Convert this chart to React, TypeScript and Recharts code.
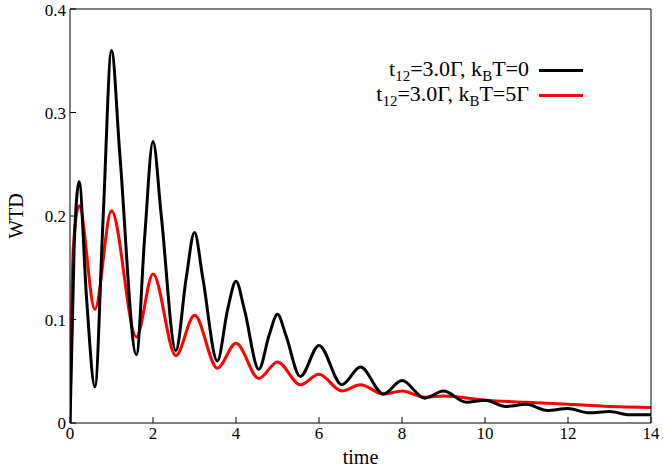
import React from "react"
import { LineChart, Line, XAxis, YAxis } from "recharts"

const blackT = [0, 0.1, 0.22, 0.4, 0.6, 0.8, 1.0, 1.2, 1.6, 1.8, 2.0, 2.2, 2.55, 2.8, 3.0, 3.2, 3.55, 3.8, 4.0, 4.2, 4.55, 4.8, 5.0, 5.2, 5.55, 6.0, 6.55, 7.0, 7.55, 8.0, 8.55, 9.0, 9.55, 10.0, 10.5, 11.0, 11.5, 12.0, 12.5, 13.0, 13.5, 14.0]
const blackV = [0, 0.17, 0.233, 0.12, 0.035, 0.2, 0.36, 0.26, 0.066, 0.18, 0.272, 0.2, 0.07, 0.14, 0.184, 0.14, 0.06, 0.11, 0.137, 0.11, 0.052, 0.085, 0.105, 0.085, 0.045, 0.075, 0.037, 0.054, 0.028, 0.041, 0.024, 0.031, 0.02, 0.022, 0.016, 0.018, 0.012, 0.014, 0.01, 0.011, 0.008, 0.008]
const redT = [0, 0.08, 0.22, 0.6, 1.0, 1.6, 2.0, 2.55, 3.0, 3.55, 4.0, 4.55, 5.0, 5.55, 6.0, 6.55, 7.0, 7.55, 8.0, 8.55, 9.0, 10.0, 11.0, 12.0, 13.0, 14.0]
const redV = [0, 0.17, 0.21, 0.11, 0.205, 0.083, 0.144, 0.065, 0.104, 0.053, 0.077, 0.043, 0.059, 0.037, 0.047, 0.031, 0.037, 0.028, 0.031, 0.025, 0.026, 0.022, 0.02, 0.018, 0.016, 0.015]
const xTicks = [0, 2, 4, 6, 8, 10, 12, 14]
const yTicks = [0, 0.1, 0.2, 0.3, 0.4]

const black = blackT.map((t, i) => ({ t, v: blackV[i] }))
const red = redT.map((t, i) => ({ t, v: redV[i] }))

const font = "'Liberation Serif', serif"

function LegendBox() {
  const row = (label: React.ReactNode, color: string) => (
    <div style={{ display: "flex", alignItems: "center", justifyContent: "flex-end", height: 25 }}>
      <span style={{ fontFamily: font, fontSize: 22, color: "#000", whiteSpace: "nowrap" }}>{label}</span>
      <span style={{ display: "inline-block", width: 44, height: 3, background: color, marginLeft: 10 }} />
    </div>
  )
  const sub = { fontSize: 15, verticalAlign: "-5px" }
  return (
    <div style={{ position: "absolute", top: 58, right: 80 }}>
      {row(<>t<span style={sub}>12</span>=3.0Γ, k<span style={sub}>B</span>T=0</>, "#000")}
      {row(<>t<span style={sub}>12</span>=3.0Γ, k<span style={sub}>B</span>T=5Γ</>, "#f00")}
    </div>
  )
}

export default function App() {
  return (
    <div style={{ position: "absolute", left: 0, top: 0, width: 663, height: 472, background: "#fff" }}>
      <LineChart width={663} height={472} margin={{ top: 8, right: 11, bottom: 0, left: 0 }}>
        <XAxis type="number" dataKey="t" domain={[0, 14]} ticks={xTicks} allowDataOverflow
          tick={{ fontFamily: font, fontSize: 17, fill: "#000" }} tickSize={-6} tickMargin={10}
          stroke="#000" height={49}
          label={{ value: "time", position: "insideBottom", offset: 8, style: { fontFamily: font, fontSize: 20, fill: "#000" } }} />
        <YAxis type="number" domain={[0, 0.4]} ticks={yTicks} allowDataOverflow
          tick={{ fontFamily: font, fontSize: 17, fill: "#000" }} tickSize={-6} tickMargin={10}
          stroke="#000" width={70} tickFormatter={(v) => String(v)}
          label={{ value: "WTD", angle: -90, position: "insideLeft", offset: 16, style: { fontFamily: font, fontSize: 20, fill: "#000", textAnchor: "middle" } }} />
        <XAxis xAxisId="top" orientation="top" type="number" domain={[0, 14]} ticks={xTicks} tick={false} tickSize={-6} stroke="#000" height={1} />
        <YAxis yAxisId="right" orientation="right" type="number" domain={[0, 0.4]} ticks={yTicks} tick={false} tickSize={-6} stroke="#000" width={1} />
        <Line data={red} dataKey="v" type="monotone" stroke="#f00" strokeWidth={3} dot={false} isAnimationActive={false} />
        <Line data={black} dataKey="v" type="monotone" stroke="#000" strokeWidth={3} dot={false} isAnimationActive={false} />
      </LineChart>
      <LegendBox />
    </div>
  )
}
